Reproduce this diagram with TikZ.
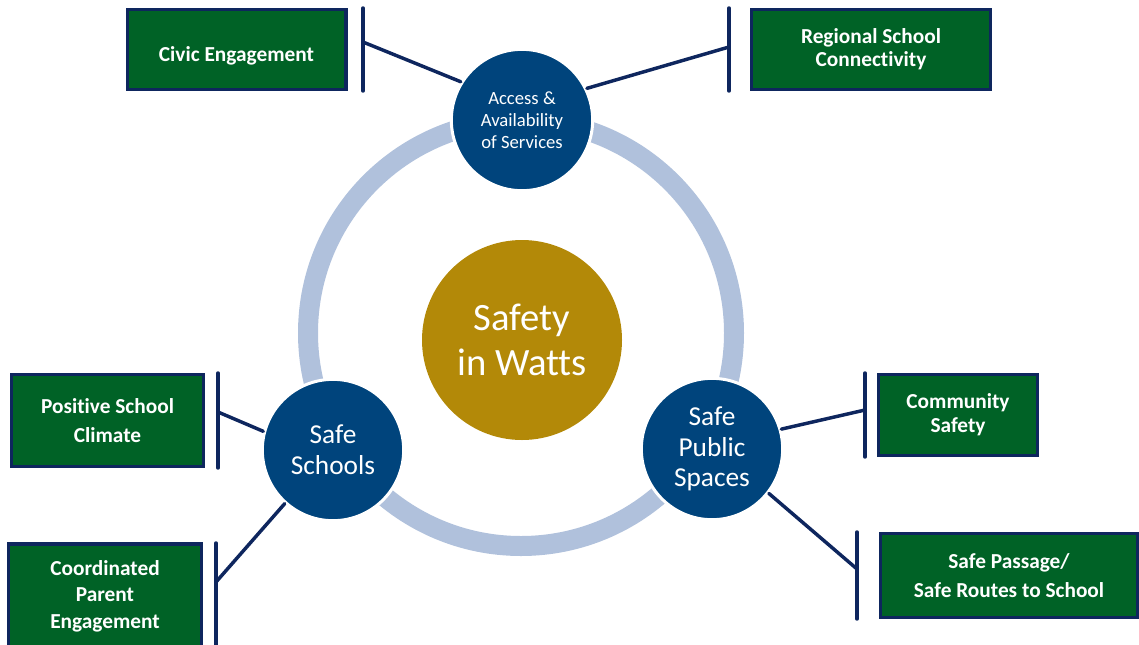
\documentclass[tikz,border=0pt]{standalone}
\usepackage{fontspec}
\setmainfont{Carlito}[Ligatures=NoCommon]
\definecolor{wattsgold}{RGB}{179,137,8}
\definecolor{pillarblue}{RGB}{0,68,124}
\definecolor{ringblue}{RGB}{176,193,220}
\definecolor{itemgreen}{RGB}{0,98,38}
\definecolor{linknavy}{RGB}{14,38,94}
\tikzset{
	pillar/.style={circle, fill=pillarblue, draw=white, line width=2.25pt, minimum size=106pt, inner sep=0pt, text=white, align=center},
	item/.style={rectangle, fill=itemgreen, draw=linknavy, line width=2.5pt, inner sep=0pt, text=white, align=center, font=\bfseries\fontsize{16}{#1}\selectfont},
	link/.style={draw=linknavy, line width=2.6pt, line cap=round},
}

\begin{document}
\begin{tikzpicture}[x=0.75pt,y=0.75pt,yscale=-1,xscale=1]
		\useasboundingbox (0,0) rectangle (1139,644);
		% ring behind the three pillars
		\draw [ringblue, line width=15pt] (521,333) circle [radius=213];
		\node [circle, fill=wattsgold, minimum size=150pt, inner sep=0pt, text=white, align=center, font=\fontsize{29}{34}\selectfont] (hub) at (522,340) {Safety\\in Watts};
		\node [pillar, font=\fontsize{14}{16.5}\selectfont] (access) at (522,120) {Access \&\\Availability\\of Services};
		\node [pillar, font=\fontsize{20.5}{23}\selectfont] (schools) at (333,450) {Safe\\Schools};
		\node [pillar, font=\fontsize{20.5}{23}\selectfont] (spaces) at (712,449) {Safe\\Public\\Spaces};
		% outcome boxes
		\node [item=19, minimum width=164pt, minimum height=60pt, text height=22pt, text depth=4pt] (civic) at (236.5,49.5) {Civic Engagement};
		\node [item=17, minimum width=179pt, minimum height=60pt] (regional) at (871,49.5) {Regional School\\Connectivity};
		\node [item=22, minimum width=144pt, minimum height=69pt] (positive) at (107.5,420.5) {Positive School\\Climate};
		\node [item=20, minimum width=145pt, minimum height=78pt] (coordinated) at (105,596) {Coordinated\\Parent\\Engagement};
		\node [item=18, minimum width=119pt, minimum height=61pt] (community) at (958,415) {Community\\Safety};
		\node [item=22, minimum width=193pt, minimum height=63pt] (passage) at (1009,575.5) {Safe Passage/\\Safe Routes to School};
		% bracket ends
		\coordinate (civicT) at (363,8);
		\coordinate (civicB) at (363,91);
		\coordinate (civicM) at (363,42);
		\coordinate (regionalT) at (729,8);
		\coordinate (regionalB) at (729,91);
		\coordinate (regionalM) at (729,47);
		\coordinate (positiveT) at (218,373);
		\coordinate (positiveB) at (218,468);
		\coordinate (positiveM) at (218,412);
		\coordinate (coordinatedT) at (216,543);
		\coordinate (coordinatedB) at (216,652);
		\coordinate (coordinatedM) at (216,582);
		\coordinate (communityT) at (865,373);
		\coordinate (communityB) at (865,457);
		\coordinate (communityM) at (865,410);
		\coordinate (passageT) at (857,532);
		\coordinate (passageB) at (857,619);
		\coordinate (passageM) at (857,569);
		\draw [link] (civicT) -- (civicB);
		\draw [link] (regionalT) -- (regionalB);
		\draw [link] (positiveT) -- (positiveB);
		\draw [link] (coordinatedT) -- (coordinatedB);
		\draw [link] (communityT) -- (communityB);
		\draw [link] (passageT) -- (passageB);
		% connectors
		\draw [link] (civicM) -- (access.148);
		\draw [link] (regionalM) -- (access.26);
		\draw [link] (positiveM) -- (schools.165);
		\draw [link] (coordinatedM) -- (schools.228);
		\draw [link] (communityM) -- (spaces.16);
		\draw [link] (passageM) -- (spaces.322);
\end{tikzpicture}
\end{document}
